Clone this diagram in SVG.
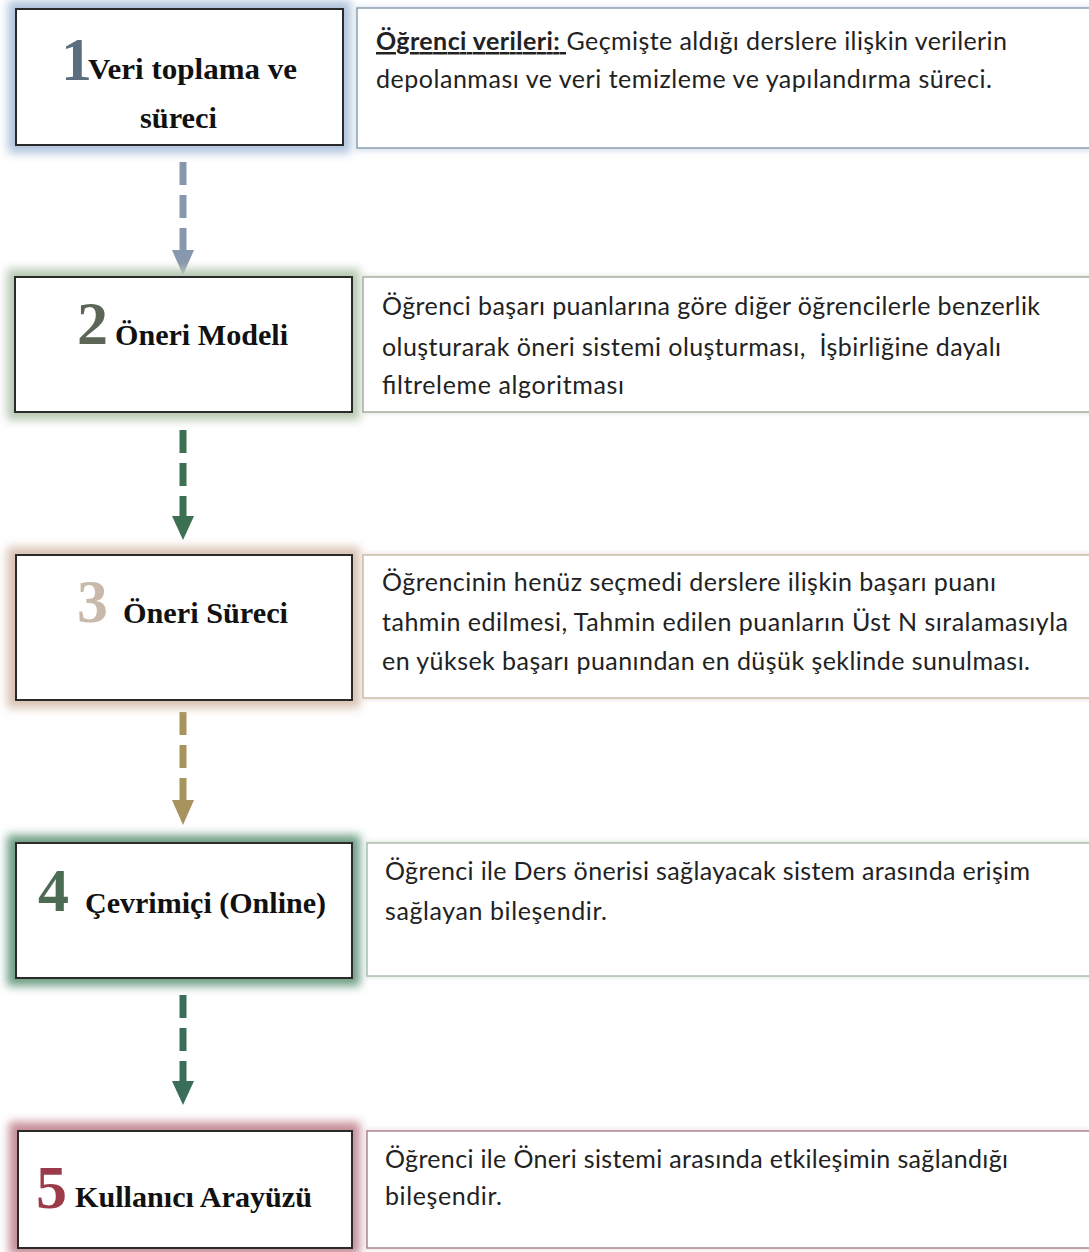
<svg xmlns="http://www.w3.org/2000/svg" width="1089" height="1252" viewBox="0 0 1089 1252">
<defs>
<filter id="glow" x="-20%" y="-30%" width="140%" height="160%"><feGaussianBlur stdDeviation="5"/></filter>
<filter id="glowS" x="-10%" y="-30%" width="120%" height="160%"><feGaussianBlur stdDeviation="2"/></filter>
<style>
.lb{fill:#fff;stroke:#2a2a2a;stroke-width:2}
.rb{fill:#fff;stroke-width:1.3}
.num{font-family:"Liberation Serif","Times New Roman",serif;font-weight:bold;font-size:62px}
.ttl{font-family:"Liberation Serif","Times New Roman",serif;font-weight:bold;font-size:30px;fill:#111}
.desc{font-family:Lato,"Open Sans",sans-serif;font-size:25px;fill:#222}
.dash{stroke-width:7;stroke-dasharray:23 10;fill:none}
</style>
</defs>
<rect width="1089" height="1252" fill="#fff"/>

<g id="connectors">
<line class="dash" x1="183" y1="162" x2="183" y2="251" stroke="#8797ae"/>
<polygon points="172,250 194,250 183,275" fill="#8797ae"/>
<line class="dash" x1="183" y1="430" x2="183" y2="517" stroke="#3b7050"/>
<polygon points="172,516 194,516 183,540" fill="#3b7050"/>
<line class="dash" x1="183" y1="712" x2="183" y2="801" stroke="#a8925e"/>
<polygon points="172,800 194,800 183,825" fill="#a8925e"/>
<line class="dash" x1="183" y1="995" x2="183" y2="1082" stroke="#3b6e58"/>
<polygon points="172,1081 194,1081 183,1105" fill="#3b6e58"/>
</g>

<g id="node1">
<rect x="8" y="1" width="343" height="152" fill="#aec2dc" filter="url(#glow)"/>
<rect class="lb" x="16" y="9" width="327" height="136"/>
<text class="num" x="61" y="80" fill="#5b6e80">1</text>
<text class="ttl" x="88" y="79" textLength="209" lengthAdjust="spacingAndGlyphs">Veri toplama ve</text>
<text class="ttl" x="140" y="128" textLength="77" lengthAdjust="spacingAndGlyphs">süreci</text>
</g>
<g id="desc1">
<rect x="355" y="6" width="740" height="146" fill="#dfe7ef" filter="url(#glowS)"/>
<rect class="rb" x="357" y="8" width="740" height="140" stroke="#7d93a6"/>
<text class="desc" x="376" y="50" textLength="631" lengthAdjust="spacing"><tspan font-weight="bold" text-decoration="underline">Öğrenci verileri: </tspan>Geçmişte aldığı derslere ilişkin verilerin</text>
<text class="desc" x="376" y="88" textLength="616" lengthAdjust="spacing">depolanması ve veri temizleme ve yapılandırma süreci.</text>
</g>

<g id="node2">
<rect x="7" y="269" width="353" height="151" fill="#b8c8b1" filter="url(#glow)"/>
<rect class="lb" x="15" y="277" width="337" height="135"/>
<text class="num" x="77" y="344" fill="#5b6656">2</text>
<text class="ttl" x="115" y="345" textLength="173" lengthAdjust="spacingAndGlyphs">Öneri Modeli</text>
</g>
<g id="desc2">
<rect x="361" y="275" width="740" height="139" fill="#e3e8e0" filter="url(#glowS)"/>
<rect class="rb" x="363" y="277" width="740" height="135" stroke="#9aa394"/>
<text class="desc" x="382" y="315" textLength="658" lengthAdjust="spacing">Öğrenci başarı puanlarına göre diğer öğrencilerle benzerlik</text>
<text class="desc" x="382" y="356" textLength="619" lengthAdjust="spacing" xml:space="preserve">oluşturarak öneri sistemi oluşturması,  İşbirliğine dayalı</text>
<text class="desc" x="382" y="394" textLength="242" lengthAdjust="spacing">filtreleme algoritması</text>
</g>

<g id="node3">
<rect x="7" y="547" width="353" height="161" fill="#d9c2b2" filter="url(#glow)"/>
<rect class="lb" x="16" y="555" width="336" height="145"/>
<text class="num" x="77" y="622" fill="#c9b9aa">3</text>
<text class="ttl" x="123" y="623" textLength="165" lengthAdjust="spacingAndGlyphs">Öneri Süreci</text>
</g>
<g id="desc3">
<rect x="361" y="553" width="740" height="147" fill="#ece5dc" filter="url(#glowS)"/>
<rect class="rb" x="363" y="555" width="740" height="143" stroke="#c2b39c"/>
<text class="desc" x="382" y="591" textLength="614" lengthAdjust="spacing">Öğrencinin henüz seçmedi derslere ilişkin başarı puanı</text>
<text class="desc" x="382" y="631" textLength="686" lengthAdjust="spacing">tahmin edilmesi, Tahmin edilen puanların Üst N sıralamasıyla</text>
<text class="desc" x="382" y="670" textLength="648" lengthAdjust="spacing">en yüksek başarı puanından en düşük şeklinde sunulması.</text>
</g>

<g id="node4">
<rect x="7" y="835" width="353" height="151" fill="#6d9d84" filter="url(#glow)"/>
<rect class="lb" x="16" y="843" width="336" height="135"/>
<text class="num" x="38" y="911" fill="#4b6b52">4</text>
<text class="ttl" x="85" y="913" textLength="241" lengthAdjust="spacingAndGlyphs">Çevrimiçi (Online)</text>
</g>
<g id="desc4">
<rect x="365" y="841" width="740" height="137" fill="#e2ebe4" filter="url(#glowS)"/>
<rect class="rb" x="367" y="843" width="740" height="133" stroke="#a3b4a6"/>
<text class="desc" x="385" y="880" textLength="645" lengthAdjust="spacing">Öğrenci ile Ders önerisi sağlayacak sistem arasında erişim</text>
<text class="desc" x="385" y="920" textLength="222" lengthAdjust="spacing">sağlayan bileşendir.</text>
</g>

<g id="node5">
<rect x="9" y="1122" width="351" height="133" fill="#c48c95" filter="url(#glow)"/>
<rect class="lb" x="18" y="1131" width="334" height="117"/>
<text class="num" x="36" y="1208" fill="#9b3b49">5</text>
<text class="ttl" x="75" y="1207" textLength="237" lengthAdjust="spacingAndGlyphs">Kullanıcı Arayüzü</text>
</g>
<g id="desc5">
<rect x="365" y="1129" width="740" height="121" fill="#efe2e4" filter="url(#glowS)"/>
<rect class="rb" x="367" y="1131" width="740" height="117" stroke="#9c7880"/>
<text class="desc" x="385" y="1168" textLength="623" lengthAdjust="spacing">Öğrenci ile Öneri sistemi arasında etkileşimin sağlandığı</text>
<text class="desc" x="385" y="1205" textLength="117" lengthAdjust="spacing">bileşendir.</text>
</g>
</svg>
